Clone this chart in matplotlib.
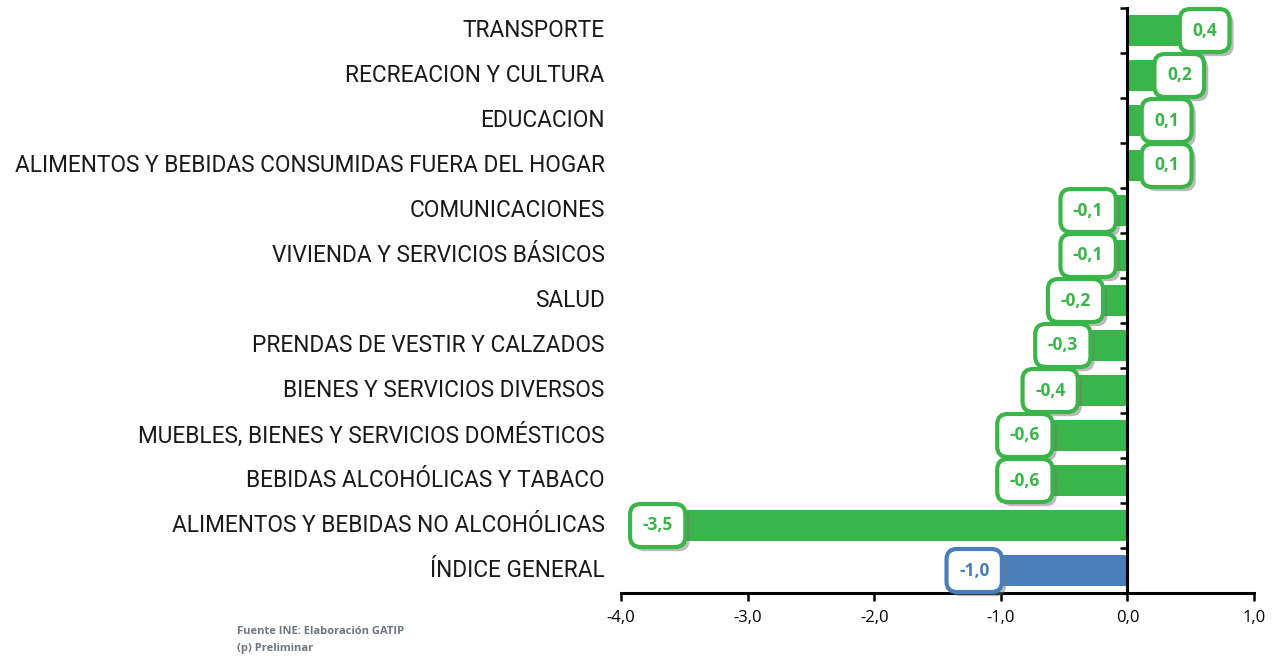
import matplotlib
matplotlib.use("Agg")
import matplotlib.pyplot as plt
import matplotlib.patheffects as pe
import numpy as np

categories = [
    "TRANSPORTE",
    "RECREACION Y CULTURA",
    "EDUCACION",
    "ALIMENTOS Y BEBIDAS CONSUMIDAS FUERA DEL HOGAR",
    "COMUNICACIONES",
    "VIVIENDA Y SERVICIOS BÁSICOS",
    "SALUD",
    "PRENDAS DE VESTIR Y CALZADOS",
    "BIENES Y SERVICIOS DIVERSOS",
    "MUEBLES, BIENES Y SERVICIOS DOMÉSTICOS",
    "BEBIDAS ALCOHÓLICAS Y TABACO",
    "ALIMENTOS Y BEBIDAS NO ALCOHÓLICAS",
    "ÍNDICE GENERAL",
]
values = [0.4, 0.2, 0.1, 0.1, -0.1, -0.1, -0.2, -0.3, -0.4, -0.6, -0.6, -3.5, -1.0]
xticks = [-4.0, -3.0, -2.0, -1.0, 0.0, 1.0]

GREEN = "#3AB54A"
BLUE = "#4A7EBB"
colors = [GREEN] * (len(values) - 1) + [BLUE]

fig = plt.figure(figsize=(12.82, 6.56), dpi=100)
ax = fig.add_axes([621 / 1282, 1 - 593 / 656, 633 / 1282, 585 / 656])

y = np.arange(len(categories))
ax.barh(y, values, height=0.7, color=colors, zorder=2)
ax.set_ylim(len(categories) - 0.5, -0.5)
ax.set_xlim(-4, 1)

for s in ["top", "right"]:
    ax.spines[s].set_visible(False)
ax.spines["left"].set_position(("data", 0))
ax.spines["left"].set_linewidth(2.2)
ax.spines["bottom"].set_linewidth(2.2)
ax.spines["left"].set_zorder(3)

ax.set_yticks(np.arange(len(categories) + 1) - 0.5)
ax.set_yticklabels([])
ax.tick_params(axis="y", direction="out", length=5, width=1.8)
ax.set_xticks(xticks)
ax.set_xticklabels([f"{v:.1f}".replace(".", ",") for v in xticks],
                   fontsize=12, family="Open Sans")
ax.tick_params(axis="x", direction="out", length=6, width=1.8, pad=6)

for yi, cat in zip(y, categories):
    ax.text(-0.026, yi, cat, transform=ax.get_yaxis_transform(), ha="right",
            va="center", fontsize=16.3, family="Roboto", color="#1a1a1a")

for yi, v, c in zip(y, values, colors):
    off = 0.21 if v > 0 else -0.21
    t = ax.text(v + off, yi, f"{v:.1f}".replace(".", ","), ha="center", va="center",
                fontsize=12.5, fontweight="bold", color=c, family="Open Sans", zorder=5,
                bbox=dict(boxstyle="round,pad=0.72,rounding_size=0.6", fc="white",
                          ec=c, lw=3))
    t.get_bbox_patch().set_path_effects([
        pe.SimplePatchShadow(offset=(3, -3), shadow_rgbFace="#777777", alpha=0.5),
        pe.Normal()])

fig.text(237 / 1282, 1 - 632 / 656, "Fuente INE: Elaboración GATIP", fontsize=8,
         fontweight="bold", color="#6b7683", family="Open Sans", va="center")
fig.text(237 / 1282, 1 - 648 / 656, "(p) Preliminar", fontsize=8,
         fontweight="bold", color="#6b7683", family="Open Sans", va="center")

fig.savefig("out.png", dpi=100)
